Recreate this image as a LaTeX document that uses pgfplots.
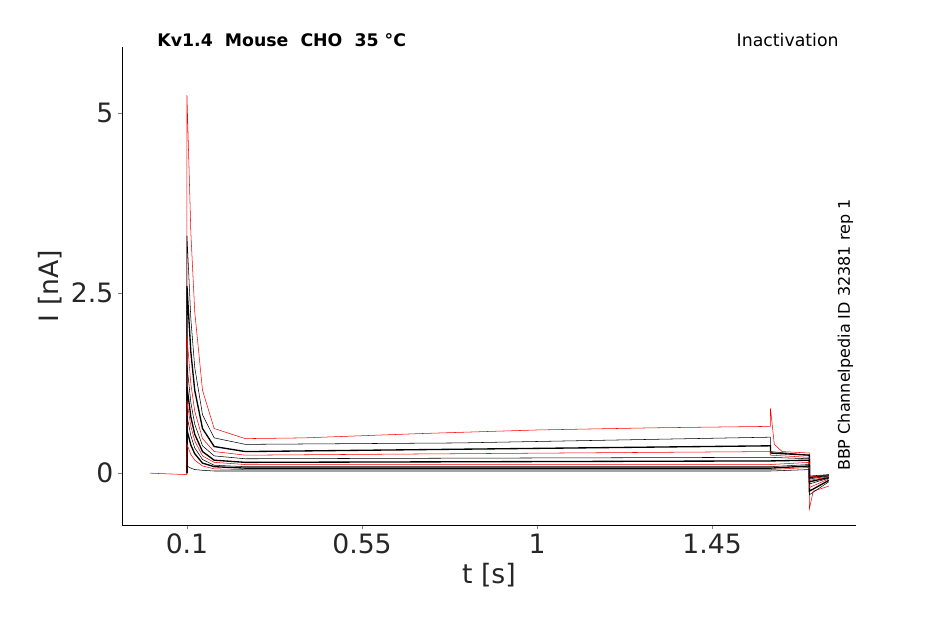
\documentclass[border=0pt]{standalone}
\usepackage{pgfplots}
\pgfplotsset{compat=1.18}
\usepackage{fontspec}
\setmainfont{DejaVu Sans}
\begin{document}
\begin{tikzpicture}
\useasboundingbox (-91.5pt,-74.25pt) rectangle (617.25pt,393.75pt);
\begin{axis}[at={(0,0)},anchor=south west,scale only axis,width=550.5pt,height=358.5pt,
xmin=-0.067,xmax=1.82,ymin=-0.72,ymax=5.92,
axis x line*=bottom,axis y line*=left,
xtick={0.1,0.55,1,1.45},xticklabels={0.1,0.55,1,1.45},
ytick={0,2.5,5},yticklabels={0,2.5,5},
tick align=outside,major tick length=3pt,
/pgf/number format/assume math mode=true,
ticklabel style={font=\fontsize{20}{24}\selectfont,text=black!85},
xlabel={t [s]},ylabel={I [nA]},
label style={font=\fontsize{20}{24}\selectfont,text=black!85},
cycle list={{red,no markers,line width=1pt}},
clip=false]
\addplot coordinates {(0.005,0) (0.1,-0.02) (0.1,5.25) (0.11,3.34) (0.12,2.24) (0.14,1.15) (0.17,0.62) (0.25,0.48) (0.4,0.49) (0.7,0.55) (1.0,0.6) (1.3,0.63) (1.6,0.65) (1.6,0.9) (1.61,0.4) (1.63,0.3) (1.7,0.28) (1.7,-0.5) (1.71,-0.25) (1.75,-0.18)};
\addplot coordinates {(0.1,0) (0.1,3.3) (0.11,2.14) (0.12,1.47) (0.14,0.81) (0.17,0.49) (0.25,0.40) (0.8,0.42) (1.6,0.5) (1.6,0.3) (1.7,0.25) (1.7,-0.3) (1.75,-0.12)};
\addplot coordinates {(0.1,0) (0.1,2.6) (0.11,1.68) (0.12,1.15) (0.14,0.62) (0.17,0.37) (0.25,0.30) (1.6,0.38) (1.6,0.28) (1.7,0.25) (1.7,-0.25) (1.75,-0.1)};
\addplot coordinates {(0.1,0) (0.1,1.9) (0.11,1.24) (0.12,0.86) (0.14,0.48) (0.17,0.30) (0.25,0.25) (1.6,0.30) (1.6,0.25) (1.7,0.22) (1.7,-0.2) (1.75,-0.08)};
\addplot coordinates {(0.1,0) (0.1,1.5) (0.11,0.98) (0.12,0.68) (0.14,0.38) (0.17,0.24) (0.25,0.20) (1.6,0.22) (1.6,0.22) (1.7,0.2) (1.7,-0.15) (1.75,-0.07)};
\addplot coordinates {(0.1,0) (0.1,1.2) (0.11,0.78) (0.12,0.54) (0.14,0.30) (0.17,0.18) (0.25,0.15) (1.6,0.17) (1.7,0.18) (1.7,-0.12) (1.75,-0.06)};
\addplot coordinates {(0.1,0) (0.1,1.0) (0.11,0.65) (0.12,0.45) (0.14,0.24) (0.17,0.15) (0.25,0.12) (1.6,0.12) (1.7,0.15) (1.7,-0.1) (1.75,-0.05)};
\addplot coordinates {(0.1,0) (0.1,0.8) (0.11,0.52) (0.12,0.35) (0.14,0.19) (0.17,0.11) (0.25,0.09) (1.6,0.09) (1.7,0.12) (1.7,-0.08) (1.75,-0.04)};
\addplot coordinates {(0.1,0) (0.1,0.6) (0.11,0.39) (0.12,0.27) (0.14,0.14) (0.17,0.09) (0.25,0.07) (1.6,0.07) (1.7,0.1) (1.7,-0.06) (1.75,-0.03)};
\addplot coordinates {(0.1,0) (0.1,0.4) (0.11,0.26) (0.12,0.18) (0.14,0.10) (0.17,0.06) (0.25,0.05) (1.6,0.05) (1.7,0.08) (1.7,-0.05) (1.75,-0.03)};
\addplot coordinates {(0.1,0) (0.1,0.1) (0.11,0.07) (0.12,0.05) (0.14,0.04) (0.17,0.03) (0.25,0.03) (1.6,0.03) (1.7,0.05) (1.7,-0.04) (1.75,-0.02)};
\end{axis}
\node[anchor=base west,font=\bfseries\fontsize{13}{15}\selectfont] at (23pt,359pt) {Kv1.4\ \ Mouse\ \ CHO\ \ 35 °C};
\node[anchor=base east,font=\fontsize{13}{15}\selectfont] at (541pt,359pt) {Inactivation};
\node[anchor=south west,rotate=90,font=\fontsize{12}{14}\selectfont] at (552pt,37pt) {BBP Channelpedia ID 32381 rep 1};
\end{tikzpicture}
\end{document}
